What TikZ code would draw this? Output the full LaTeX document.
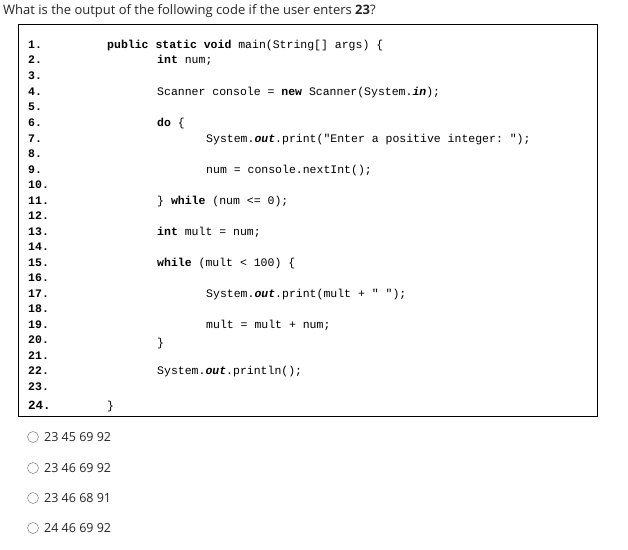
\documentclass[tikz,border=0pt]{standalone}
\usepackage{fontspec}
\setmainfont{Open Sans}
\setmonofont{Liberation Mono}
\begin{document}
\begin{tikzpicture}[x=1pt,y=-1pt,
  code/.style={anchor=base west,inner sep=0pt,font=\ttfamily\fontsize{11.5}{13}\selectfont},
  num/.style={anchor=base west,inner sep=0pt,font=\ttfamily\bfseries\fontsize{11.5}{13}\selectfont},
  opt/.style={anchor=west,inner sep=0pt,font=\fontsize{12.5}{14}\selectfont,text=black!85},
  radio/.style={circle,draw=black!60,minimum size=11pt,inner sep=0pt}]
\useasboundingbox (0,0) rectangle (628,549);
\node[anchor=base west,inner sep=0pt,font=\fontsize{13}{15}\selectfont,text=black!85] (q) at (3,14) {What is the output of the following code if the user enters \textbf{23}?};
\draw[line width=1pt] (18,24) rectangle (597,416);
\foreach \i/\y in {1/48,2/63,3/79,4/95,5/110,6/126,7/142,8/157,9/173,10/188,11/204,12/219,13/235,14/250,15/266,16/281,17/297,18/312,19/328,20/343,21/359,22/374,23/390}
  \node[num] (n\i) at (28,\y) {\i.};
\node[num,font=\ttfamily\bfseries\fontsize{12.5}{14}\selectfont] (n24) at (28,409) {24.};
\node[code] (c1) at (107,48) {\textbf{public static void} main(String[] args) \{};
\node[code] (c2) at (157,63) {\textbf{int} num;};
\node[code] (c4) at (157,95) {Scanner console = \textbf{new} Scanner(System.\textbf{\textit{in}});};
\node[code] (c6) at (157,126) {\textbf{do} \{};
\node[code] (c7) at (206,142) {System.\textbf{\textit{out}}.print("Enter a positive integer: ");};
\node[code] (c9) at (206,173) {num = console.nextInt();};
\node[code] (c11) at (157,204) {\} \textbf{while} (num <= 0);};
\node[code] (c13) at (157,235) {\textbf{int} mult = num;};
\node[code] (c15) at (157,266) {\textbf{while} (mult < 100) \{};
\node[code] (c17) at (206,297) {System.\textbf{\textit{out}}.print(mult + " ");};
\node[code] (c19) at (206,328) {mult = mult + num;};
\node[code] (c20) at (157,346) {\}};
\node[code] (c22) at (157,374) {System.\textbf{\textit{out}}.println();};
\node[code] (c24) at (107,409) {\}};
\foreach \i/\y/\t in {1/437/23 45 69 92,2/468/23 46 69 92,3/498/23 46 68 91,4/528/24 46 69 92}{
  \node[radio] (r\i) at (33,\y) {};
  \node[opt] (o\i) at (44,\y) {\t};
}
\end{tikzpicture}
\end{document}
